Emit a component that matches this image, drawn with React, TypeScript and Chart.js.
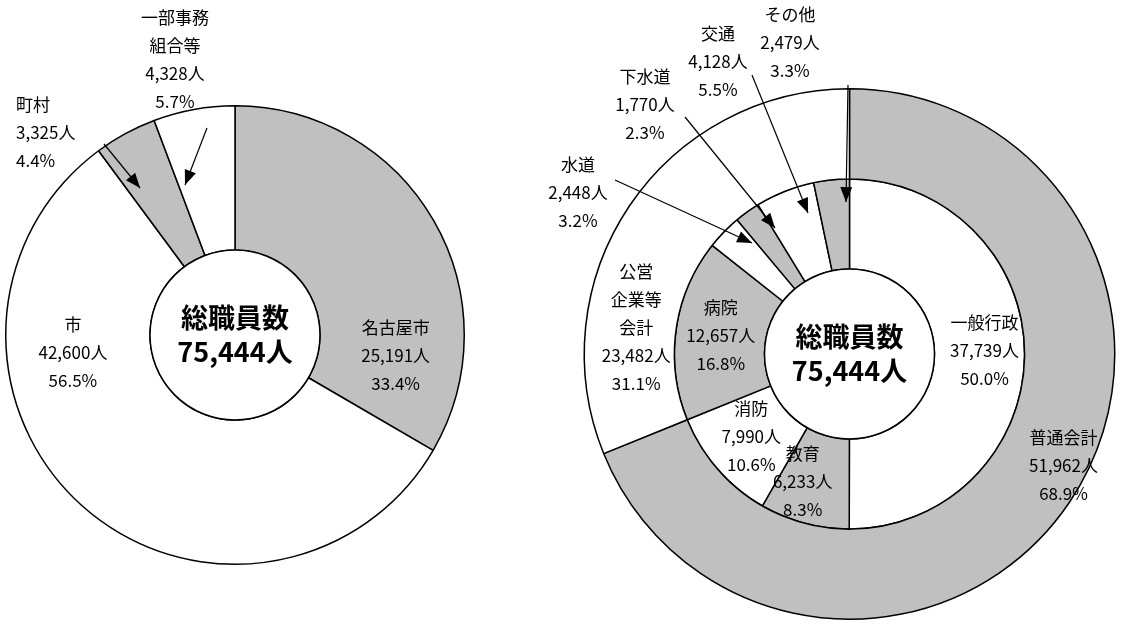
import React, { useEffect, useRef } from "react";
import { Chart, registerables } from "chart.js";

Chart.register(...registerables);

// left chart: by entity type
const leftNames = ["名古屋市", "市", "町村", "一部事務組合等"];
const leftValues = [25191, 42600, 3325, 4328];
const leftPct = ["33.4%", "56.5%", "4.4%", "5.7%"];
const leftColors = ["#c0c0c0", "#ffffff", "#c0c0c0", "#ffffff"];

// right chart outer ring: accounts
const outerNames = ["普通会計", "公営企業等会計"];
const outerValues = [51962, 23482];
const outerPct = ["68.9%", "31.1%"];
const outerColors = ["#c0c0c0", "#ffffff"];

// right chart inner ring: departments
const innerNames = ["一般行政", "教育", "消防", "病院", "水道", "下水道", "交通", "その他"];
const innerValues = [37739, 6233, 7990, 12657, 2448, 1770, 4128, 2479];
const innerPct = ["50.0%", "8.3%", "10.6%", "16.8%", "3.2%", "2.3%", "5.5%", "3.3%"];
const innerColors = ["#ffffff", "#c0c0c0", "#ffffff", "#c0c0c0", "#ffffff", "#c0c0c0", "#ffffff", "#c0c0c0"];

const totalLabel = ["総職員数", "75,444人"];
const FONT = '"Noto Sans CJK JP", sans-serif';
const LH = 28;

const fmt = (v: number) => v.toLocaleString("en-US") + "人";

type Callout = { lines: string[]; x: number; y: number; align: CanvasTextAlign; from: [number, number]; to: [number, number] };

function drawLines(ctx: CanvasRenderingContext2D, lines: string[], x: number, y: number, align: CanvasTextAlign = "center") {
  ctx.font = `17px ${FONT}`;
  ctx.fillStyle = "#000";
  ctx.textAlign = align;
  ctx.textBaseline = "middle";
  const start = y - ((lines.length - 1) * LH) / 2;
  lines.forEach((l, i) => ctx.fillText(l, x, start + i * LH));
}

function arrow(ctx: CanvasRenderingContext2D, from: [number, number], to: [number, number]) {
  const [x1, y1] = from;
  const [x2, y2] = to;
  const a = Math.atan2(y2 - y1, x2 - x1);
  ctx.strokeStyle = "#000";
  ctx.lineWidth = 1.2;
  ctx.beginPath();
  ctx.moveTo(x1, y1);
  ctx.lineTo(x2, y2);
  ctx.stroke();
  ctx.fillStyle = "#000";
  ctx.beginPath();
  ctx.moveTo(x2, y2);
  ctx.lineTo(x2 - 16 * Math.cos(a - 0.38), y2 - 16 * Math.sin(a - 0.38));
  ctx.lineTo(x2 - 16 * Math.cos(a + 0.38), y2 - 16 * Math.sin(a + 0.38));
  ctx.closePath();
  ctx.fill();
}

const makePlugin = (inside: { ds: number; idx: number; lines: string[]; r?: number; dx?: number; dy?: number }[], callouts: Callout[]) => ({
  id: "labels",
  afterDraw(chart: any) {
    const ctx: CanvasRenderingContext2D = chart.ctx;
    const arc0 = chart.getDatasetMeta(0).data[0];
    const cx = arc0.x;
    const cy = arc0.y;
    const lastMeta = chart.getDatasetMeta(chart.data.datasets.length - 1);
    const hole = lastMeta.data[0].innerRadius;
    ctx.save();
    ctx.beginPath();
    ctx.arc(cx, cy, hole, 0, Math.PI * 2);
    ctx.fillStyle = "#fff";
    ctx.fill();
    ctx.lineWidth = 1.5;
    ctx.strokeStyle = "#000";
    ctx.stroke();
    ctx.font = `bold 27px ${FONT}`;
    ctx.fillStyle = "#000";
    ctx.textAlign = "center";
    ctx.textBaseline = "middle";
    ctx.fillText(totalLabel[0], cx, cy - 17);
    ctx.fillText(totalLabel[1], cx, cy + 17);
    inside.forEach((it) => {
      const el = chart.getDatasetMeta(it.ds).data[it.idx];
      const mid = (el.startAngle + el.endAngle) / 2;
      const r = it.r ?? (el.innerRadius + el.outerRadius) / 2;
      drawLines(ctx, it.lines, cx + r * Math.cos(mid) + (it.dx ?? 0), cy + r * Math.sin(mid) + (it.dy ?? 0));
    });
    callouts.forEach((c) => {
      drawLines(ctx, c.lines, c.x, c.y, c.align);
      arrow(ctx, c.from, c.to);
    });
    ctx.restore();
  },
});

const DonutCanvas = ({ config, left, width }: { config: any; left: number; width: number }) => {
  const ref = useRef<HTMLCanvasElement | null>(null);
  useEffect(() => {
    const ctx = ref.current?.getContext("2d");
    if (!ctx) return;
    const chart = new Chart(ctx, config);
    return () => chart.destroy();
  }, []);
  return (
    <canvas
      ref={ref}
      width={width}
      height={626}
      style={{ position: "absolute", left, top: 0, width, height: 626 }}
    />
  );
};

const baseOptions = (padding: any, cutout: number) => ({
  responsive: false,
  animation: false,
  cutout,
  layout: { padding },
  plugins: { legend: { display: false }, tooltip: { enabled: false } },
});

const App = () => {
  const leftConfig = {
    type: "doughnut",
    data: {
      labels: leftNames,
      datasets: [{ data: leftValues, backgroundColor: leftColors, borderColor: "#000", borderWidth: 1.5 }],
    },
    options: baseOptions({ left: 5, right: 5, top: 105, bottom: 61 }, 85),
    plugins: [
      makePlugin(
        [
          { ds: 0, idx: 0, lines: [leftNames[0], fmt(leftValues[0]), leftPct[0]], r: 168, dx: 15, dy: 104 },
          { ds: 0, idx: 1, lines: [leftNames[1], fmt(leftValues[1]), leftPct[1]], r: 168, dx: -50, dy: -108 },
        ],
        [
          { lines: [leftNames[2], fmt(leftValues[2]), leftPct[2]], x: 16, y: 133, align: "left", from: [104, 144], to: [140, 188] },
          { lines: ["一部事務", "組合等", fmt(leftValues[3]), leftPct[3]], x: 175, y: 60, align: "center", from: [207, 128], to: [185, 185] },
        ]
      ),
    ],
  };

  const rightConfig = {
    type: "doughnut",
    data: {
      labels: innerNames,
      datasets: [
        { data: outerValues, backgroundColor: outerColors, borderColor: "#000", borderWidth: 1.5 },
        { data: innerValues, backgroundColor: innerColors, borderColor: "#000", borderWidth: 1.5 },
      ],
    },
    options: baseOptions({ left: 102, right: 9, top: 88, bottom: 6 }, 85),
    plugins: [
      makePlugin(
        [
          { ds: 1, idx: 0, lines: [innerNames[0], fmt(innerValues[0]), innerPct[0]], r: 135, dy: -4 },
          { ds: 1, idx: 1, lines: [innerNames[1], fmt(innerValues[1]), innerPct[1]], r: 135, dx: -12, dy: -3 },
          { ds: 1, idx: 2, lines: [innerNames[2], fmt(innerValues[2]), innerPct[2]], r: 125, dx: -4 },
          { ds: 1, idx: 3, lines: [innerNames[3], fmt(innerValues[3]), innerPct[3]], r: 130 },
          { ds: 0, idx: 0, lines: [outerNames[0], fmt(outerValues[0]), outerPct[0]], r: 240, dx: 15, dy: -23 },
          { ds: 0, idx: 1, lines: ["公営", "企業等", "会計", fmt(outerValues[1]), outerPct[1]], r: 215, dx: -35, dy: 94 },
        ],
        [
          { lines: [innerNames[4], fmt(innerValues[4]), innerPct[4]], x: 98, y: 193, align: "center", from: [135, 180], to: [272, 243] },
          { lines: [innerNames[5], fmt(innerValues[5]), innerPct[5]], x: 165, y: 105, align: "center", from: [205, 117], to: [295, 228] },
          { lines: [innerNames[6], fmt(innerValues[6]), innerPct[6]], x: 238, y: 62, align: "center", from: [272, 75], to: [328, 213] },
          { lines: [innerNames[7], fmt(innerValues[7]), innerPct[7]], x: 310, y: 43, align: "center", from: [368, 85], to: [366, 202] },
        ]
      ),
    ],
  };

  return (
    <div style={{ position: "absolute", left: 0, top: 0, width: 1126, height: 626, background: "#fff" }}>
      <DonutCanvas config={leftConfig} left={0} width={470} />
      <DonutCanvas config={rightConfig} left={480} width={646} />
    </div>
  );
};

export default App;
